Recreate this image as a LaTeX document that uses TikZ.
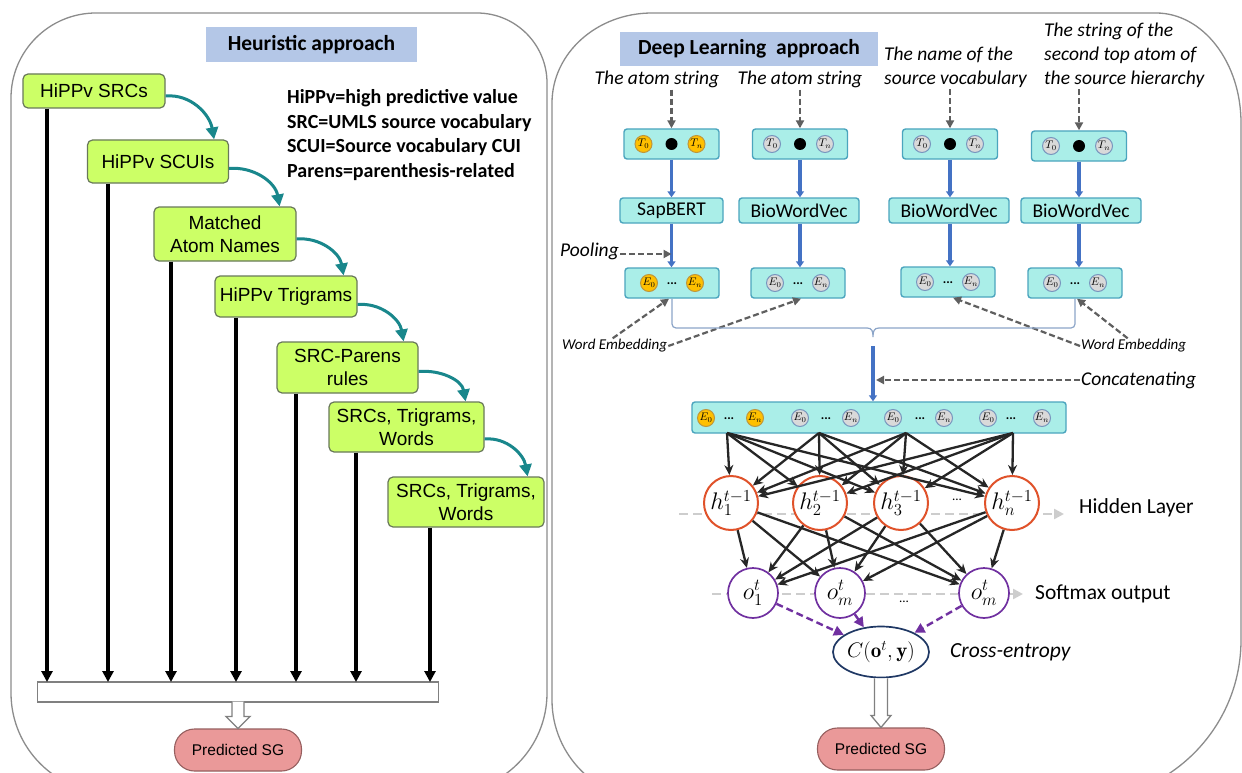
\RequirePackage{fix-cm}
\documentclass[tikz,border=0pt]{standalone}
\usepackage{graphicx}
\usepackage{fontspec}
\newfontfamily\arialf{Liberation Sans}
\newfontfamily\calf{Carlito}
\usetikzlibrary{arrows.meta,calc,shapes.geometric}
\definecolor{gfill}{RGB}{204,255,102}
\definecolor{gdraw}{RGB}{105,120,90}
\definecolor{tealc}{RGB}{25,135,140}
\definecolor{titlef}{RGB}{180,199,231}
\definecolor{psgf}{RGB}{234,153,153}
\definecolor{psgd}{RGB}{150,95,95}
\definecolor{cyf}{RGB}{170,238,232}
\definecolor{cyd}{RGB}{75,165,190}
\definecolor{orf}{RGB}{255,192,0}
\definecolor{ord}{RGB}{190,150,60}
\definecolor{grf}{RGB}{217,217,217}
\definecolor{grd}{RGB}{120,150,190}
\definecolor{bluec}{RGB}{68,114,196}
\definecolor{dgray}{RGB}{95,95,95}
\definecolor{lgray}{RGB}{205,205,205}
\definecolor{hred}{RGB}{224,82,42}
\definecolor{opur}{RGB}{112,48,160}
\definecolor{cenb}{RGB}{31,56,100}
\definecolor{panelc}{RGB}{140,140,140}
\definecolor{brkc}{RGB}{140,165,200}
\newcommand\bigmath[1]{\scalebox{1.2}{#1}}
\begin{document}
\begin{tikzpicture}[x=1pt,y=-1pt,
 panelline/.style={draw=panelc, line width=1.3pt},
 gbox/.style={draw=gdraw, fill=gfill, rounded corners=5pt, line width=1.2pt, inner sep=0pt, align=center, font=\arialf\fontsize{19}{22.5}\selectfont},
 titlebox/.style={fill=titlef, inner sep=0pt, font=\calf\bfseries\fontsize{21.5}{25}\selectfont},
 legtext/.style={anchor=base west, inner sep=0pt, font=\calf\bfseries\fontsize{20}{24}\selectfont},
 tarrow/.style={draw=tealc, line width=3pt, -{Triangle[length=12pt,width=12pt]}},
 blk/.style={line width=3.4pt, -{Triangle[length=11pt,width=11pt]}},
 barbox/.style={draw=gray, fill=white, line width=1.3pt, inner sep=0pt},
 hollow/.style={draw=gray, fill=white, line width=1.3pt},
 psg/.style={draw=psgd, fill=psgf, rounded corners=20pt, line width=1.1pt, minimum width=127, minimum height=42, inner sep=0pt, font=\arialf\fontsize{15.5}{18}\selectfont},
 cybox/.style={draw=cyd, fill=cyf, rounded corners=3pt, line width=1.4pt, inner sep=0pt},
 modtxt/.style={cybox, font=\calf\fontsize{19.5}{23}\selectfont, minimum height=25},
 ocirc/.style={circle, draw=ord, fill=orf, line width=1pt, minimum size=17pt, inner sep=0pt, font=\fontsize{11}{12}\selectfont},
 gcirc/.style={circle, draw=grd, fill=grf, line width=1pt, minimum size=17pt, inner sep=0pt, font=\fontsize{11}{12}\selectfont},
 bdot/.style={circle, fill=black, minimum size=12pt, inner sep=0pt},
 ital/.style={font=\calf\itshape\fontsize{19.5}{23}\selectfont, inner sep=1pt},
 wemb/.style={font=\calf\itshape\fontsize{15}{18}\selectfont, inner sep=1pt},
 gdash/.style={draw=dgray, line width=2.2pt, dash pattern=on 6pt off 3pt, -{Triangle[length=8pt,width=8pt]}},
 barrow/.style={draw=bluec, line width=3.6pt, -{Triangle[length=6pt,width=8pt]}},
 brk/.style={draw=brkc, line width=1.2pt},
 net/.style={draw=black!85, line width=2.3pt, -{Stealth[length=10pt,width=9pt]}},
 hnode/.style={circle, draw=hred, fill=white, line width=2pt, minimum size=54pt, inner sep=0pt, font=\fontsize{20}{24}\selectfont},
 onode/.style={circle, draw=opur, fill=white, line width=1.7pt, minimum size=50pt, inner sep=0pt, font=\fontsize{20}{24}\selectfont},
 lgdash/.style={draw=lgray, line width=2.4pt, dash pattern=on 9pt off 5pt, -{Triangle[length=10pt,width=10pt]}},
 pdash/.style={draw=opur, line width=2.4pt, dash pattern=on 7pt off 4pt, -{Triangle[length=10pt,width=10pt]}},
 cent/.style={ellipse, draw=cenb, fill=white, line width=1.7pt, minimum width=96pt, minimum height=51pt, inner sep=0pt, font=\fontsize{20}{24}\selectfont},
 sidelab/.style={font=\calf\fontsize{21.5}{25}\selectfont, anchor=west, inner sep=0pt},
 dotstxt/.style={font=\calf\bfseries\fontsize{13}{15}\selectfont, inner sep=0pt},
]
\useasboundingbox (0,0) rectangle (1242,773);
\clip (0,0) rectangle (1242,773);
\fill[white] (0,0) rectangle (1242,773);

% ---------- panels ----------
\draw[panelline] (11,98) .. controls (11,51.1) and (49.1,13) .. (96,13) -- (477,13)
  .. controls (515.6,13) and (547,44.4) .. (547,83) -- (547,693)
  .. controls (547,748.2) and (502.2,793) .. (447,793) -- (111,793)
  .. controls (55.8,793) and (11,748.2) .. (11,693) -- cycle;
\draw[panelline] (552,103) .. controls (552,53.3) and (596.8,13) .. (652,13) -- (1156,13)
  .. controls (1202.9,13) and (1241,62.3) .. (1241,123) -- (1241,640)
  .. controls (1241,728.3) and (1169.3,800) .. (1081,800) -- (652,800)
  .. controls (596.8,800) and (552,755.2) .. (552,700) -- cycle;

% ---------- left: heuristic ----------
\node[titlebox, minimum width=211, minimum height=35] (ttl1) at (311.5,44.5) {Heuristic approach};

\node[gbox, minimum width=142, minimum height=34] (b1) at (94,91) {HiPPv SRCs};
\node[gbox, minimum width=141, minimum height=43] (b2) at (158,161.5) {HiPPv SCUIs};
\node[gbox, minimum width=142, minimum height=54] (b3) at (225,234) {Matched\\Atom Names};
\node[gbox, minimum width=142, minimum height=41] (b4) at (286,296.5) {HiPPv Trigrams};
\node[gbox, minimum width=141, minimum height=51] (b5) at (347.5,367.5) {SRC-Parens\\rules};
\node[gbox, minimum width=155, minimum height=50] (b6) at (406.5,427) {SRCs, Trigrams,\\Words};
\node[gbox, minimum width=156, minimum height=50] (b7) at (466,502) {SRCs, Trigrams,\\Words};

\node[legtext] (lg1) at (287,104) {HiPPv=high predictive value};
\node[legtext] (lg2) at (287,128.5) {SRC=UMLS source vocabulary};
\node[legtext] (lg3) at (287,153) {SCUI=Source vocabulary CUI};
\node[legtext] (lg4) at (287,177.5) {Parens=parenthesis-related};

\draw[tarrow] ([yshift=-5pt]b1.east) to[out=5,in=100] ([xshift=-15pt]b2.north east);
\draw[tarrow] ([yshift=-7pt]b2.east) to[out=5,in=100] ([xshift=-17pt]b3.north east);
\draw[tarrow] ([yshift=-5pt]b3.east) to[out=5,in=100] ([xshift=-14pt]b4.north east);
\draw[tarrow] ([yshift=-8pt]b4.east) to[out=5,in=100] ([xshift=-15pt]b5.north east);
\draw[tarrow] ([yshift=-4pt]b5.east) to[out=5,in=100] ([xshift=-19pt]b6.north east);
\draw[tarrow] ([yshift=-12pt]b6.east) to[out=5,in=100] ([xshift=-17pt]b7.north east);

\node[barbox, minimum width=401, minimum height=20] (bar) at (238,692) {};
\coordinate (t1) at (47,682);
\coordinate (t2) at (108,682);
\coordinate (t3) at (171,682);
\coordinate (t4) at (236,682);
\coordinate (t5) at (296,682);
\coordinate (t6) at (356,682);
\coordinate (t7) at (430,682);
\draw[blk] (b1.south -| t1) -- (t1);
\draw[blk] (b2.south -| t2) -- (t2);
\draw[blk] (b3.south -| t3) -- (t3);
\draw[blk] (b4.south -| t4) -- (t4);
\draw[blk] (b5.south -| t5) -- (t5);
\draw[blk] (b6.south -| t6) -- (t6);
\draw[blk] (b7.south -| t7) -- (t7);

\node[psg] (psg1) at (238,750) {Predicted SG};
\draw[hollow] ($(bar.south)+(-6,-1)$) -- ($(psg1.north)+(-6,-12)$) -- ($(psg1.north)+(-12,-12)$) -- (psg1.north) -- ($(psg1.north)+(12,-12)$) -- ($(psg1.north)+(6,-12)$) -- ($(bar.south)+(6,-1)$);

% ---------- right: deep learning ----------
\node[titlebox, minimum width=258, minimum height=34] (ttl2) at (749,49) {Deep Learning\ \ approach};

\node[ital, anchor=base] (la1) at (657,85) {The atom string};
\node[ital, anchor=base] (lb1) at (800,85) {The atom string};
\node[ital, anchor=base west] (lc1) at (883,61) {The name of the};
\node[ital, anchor=base west] (lc2) at (883,85) {source vocabulary};
\node[ital, anchor=base west] (ld1) at (1043,37) {The string of the};
\node[ital, anchor=base west] (ld2) at (1043,61) {second top atom of};
\node[ital, anchor=base west] (ld3) at (1043,85) {the source hierarchy};

% token boxes
\node[cybox, minimum width=95, minimum height=30] (tokA) at (671.5,144) {};
\node[cybox, minimum width=95, minimum height=30] (tokB) at (800,144) {};
\node[cybox, minimum width=95, minimum height=30] (tokC) at (950,144) {};
\node[cybox, minimum width=95, minimum height=30] (tokD) at (1079,146) {};
\node[ocirc] (ta0) at ($(tokA)+(-28,0)$) {$T_0$};
\node[bdot] (tad) at (tokA) {};
\node[ocirc] (tan) at ($(tokA)+(25,0)$) {$T_n$};
\foreach \b in {B,C,D}{
  \node[gcirc] (t\b0) at ($(tok\b)+(-28,0)$) {$T_0$};
  \node[bdot] (t\b d) at (tok\b) {};
  \node[gcirc] (t\b n) at ($(tok\b)+(25,0)$) {$T_n$};
}
\draw[gdash] (tokA.north |- la1.south) -- (tokA.north);
\draw[gdash] (tokB.north |- lb1.south) -- (tokB.north);
\draw[gdash] (tokC.north |- lc2.south) -- (tokC.north);
\draw[gdash] (tokD.north |- ld3.south) -- (tokD.north);

% model boxes
\node[modtxt, minimum width=103] (modA) at (671.5,210.5) {SapBERT};
\node[modtxt, minimum width=120] (modB) at (799,210.5) {BioWordVec};
\node[modtxt, minimum width=120] (modC) at (949,210.5) {BioWordVec};
\node[modtxt, minimum width=120] (modD) at (1081,210.5) {BioWordVec};
\draw[barrow] (tokA.south) -- (tokA.south |- modA.north);
\draw[barrow] (tokB.south) -- (tokB.south |- modB.north);
\draw[barrow] (tokC.south) -- (tokC.south |- modC.north);
\draw[barrow] (tokD.south) -- (tokD.south |- modD.north);

% embedding boxes
\node[cybox, minimum width=94, minimum height=30] (embA) at (672,283) {};
\node[cybox, minimum width=94, minimum height=30] (embB) at (798,283) {};
\node[cybox, minimum width=94, minimum height=30] (embC) at (948,282) {};
\node[cybox, minimum width=94, minimum height=30] (embD) at (1075,283) {};
\node[ocirc] (ea0) at ($(embA)+(-23,0)$) {$E_0$};
\node[dotstxt] (ead) at ($(embA)+(0,1)$) {...};
\node[ocirc] (ean) at ($(embA)+(23,0)$) {$E_n$};
\foreach \b in {B,C,D}{
  \node[gcirc] (e\b0) at ($(emb\b)+(-23,0)$) {$E_0$};
  \node[dotstxt] (e\b d) at ($(emb\b)+(0,1)$) {...};
  \node[gcirc] (e\b n) at ($(emb\b)+(23,0)$) {$E_n$};
}
\draw[barrow] (modA.south -| tokA) -- (embA.north -| tokA);
\draw[barrow] (modB.south -| tokB) -- (embB.north -| tokB);
\draw[barrow] (modC.south -| tokC) -- (embC.north -| tokC);
\draw[barrow] (modD.south -| tokD) -- (embD.north -| tokD);

\node[ital, anchor=east] (pool) at (620,251) {Pooling};
\draw[gdash] ([yshift=-3pt]pool.east) -- ([yshift=-3pt]pool.east -| tokA) ;

\node[wemb, anchor=west] (wl) at (561,346) {Word Embedding};
\node[wemb, anchor=west] (wr) at (1080,346) {Word Embedding};
\draw[gdash] ([xshift=-2pt]wl.north) -- ([xshift=-3pt]embA.south);
\draw[gdash] (wl.east) -- ([xshift=3pt]embB.south);
\draw[gdash] (wr.west) -- ([xshift=5pt]embC.south);
\draw[gdash] ([xshift=-6pt]wr.north) -- ([xshift=2pt]embD.south);

% bracket
\coordinate (brtip) at (873,337);
\draw[brk, rounded corners=4pt] (embA.south) |- (867,328);
\draw[brk] (867,328) .. controls (872,328) and (873,331) .. (brtip) .. controls (873,331) and (874,328) .. (879,328);
\draw[brk, rounded corners=4pt] (879,328) -| (embD.south);

% concatenated vector
\node[cybox, minimum width=374, minimum height=31] (cat) at (879,417.5) {};
\draw[barrow] ([yshift=-9pt]brtip) -- (cat.north -| brtip);
\node[ital, anchor=west] (conc) at (1080,380) {Concatenating};
\draw[gdash] (conc.west) -- ([xshift=3pt]conc.west -| brtip);

\node[ocirc] (c1) at (706,418) {$E_0$};
\node[dotstxt] (c2) at (729,419) {...};
\node[ocirc] (c3) at (755,418) {$E_n$};
\node[gcirc] (c4) at (800,418) {$E_0$};
\node[dotstxt] (c5) at (826,419) {...};
\node[gcirc] (c6) at (851,418) {$E_n$};
\node[gcirc] (c7) at (893,418) {$E_0$};
\node[dotstxt] (c8) at (920,419) {...};
\node[gcirc] (c9) at (944,418) {$E_n$};
\node[gcirc] (c10) at (988,418) {$E_0$};
\node[dotstxt] (c11) at (1011,419) {...};
\node[gcirc] (c12) at (1042,418) {$E_n$};

% hidden layer
\coordinate (hls) at (679,514);
\coordinate (hle) at (1064,514);
\draw[lgdash] (hls) -- (hle);
\node[sidelab] (hlab) at (1079,508) {Hidden Layer};
\node[hnode] (h1) at (731,503) {\bigmath{$h_1^{t-1}$}};
\node[hnode] (h2) at (820,503) {\bigmath{$h_2^{t-1}$}};
\node[hnode] (h3) at (901,503) {\bigmath{$h_3^{t-1}$}};
\node[hnode] (hn) at (1012,503) {\bigmath{$h_n^{t-1}$}};
\node[dotstxt, font=\calf\fontsize{13}{15}\selectfont] (hdots) at (957,500) {...};

\coordinate (s1) at (727,433);
\coordinate (s2) at (819,433);
\coordinate (s3) at (906,433);
\coordinate (s4) at (1013,433);
\foreach \s in {s1,s2,s3,s4}
  \foreach \h in {h1,h2,h3,hn}
    \draw[net] (\s) -- (\h);

% output layer
\coordinate (sms) at (712,594);
\coordinate (sme) at (1023,594);
\draw[lgdash] (sms) -- (sme);
\node[sidelab] (smlab) at (1035,594) {Softmax output};
\node[onode] (o1) at (753,593) {\bigmath{$o_1^t$}};
\node[onode] (o2) at (840,593) {\bigmath{$o_m^t$}};
\node[onode] (o3) at (984,593) {\bigmath{$o_m^t$}};
\node[dotstxt, font=\calf\fontsize{13}{15}\selectfont] (odots) at (904,602) {...};
\foreach \h in {h1,h2,h3,hn}
  \foreach \o in {o1,o2,o3}
    \draw[net] (\h) -- (\o);

% cross-entropy
\node[cent] (ce) at (881,652) {\scalebox{1.05}{$C(\mathbf{o}^t,\mathbf{y})$}};
\node[sidelab, font=\calf\itshape\fontsize{21.5}{25}\selectfont] (celab) at (950,652) {Cross-entropy};
\draw[pdash] (o1) -- (ce);
\draw[pdash] (o2) -- (ce);
\draw[pdash] (o3) -- (ce);

\node[psg] (psg2) at (881,749) {Predicted SG};
\draw[hollow] ($(ce.south)+(-6.5,0)$) -- ($(psg2.north)+(-6.5,-12)$) -- ($(psg2.north)+(-10,-12)$) -- (psg2.north) -- ($(psg2.north)+(10,-12)$) -- ($(psg2.north)+(6.5,-12)$) -- ($(ce.south)+(6.5,0)$);
\end{tikzpicture}
\end{document}
